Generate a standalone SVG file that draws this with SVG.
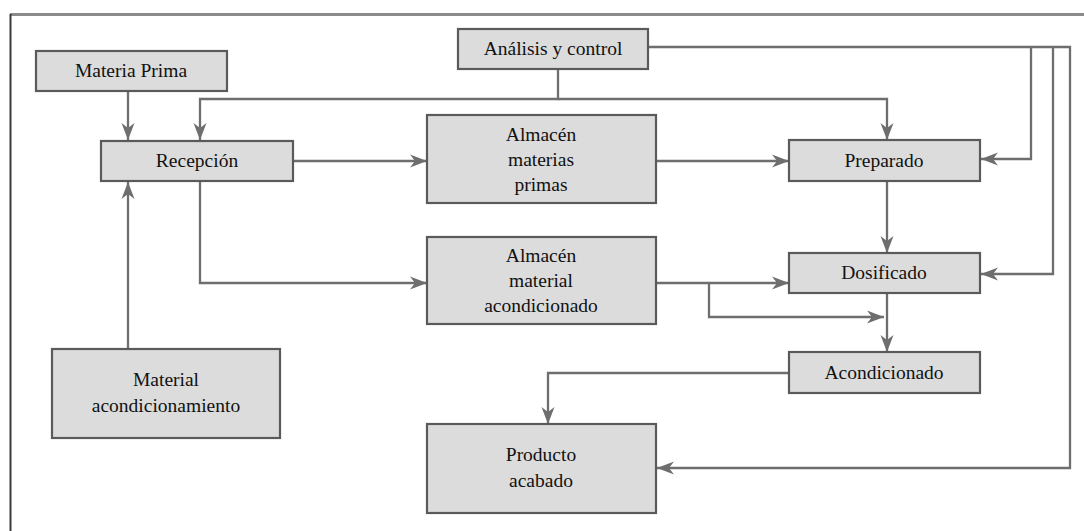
<svg xmlns="http://www.w3.org/2000/svg" width="1084" height="531" viewBox="0 0 1084 531">
<style>
.box{fill:#dcdcdc;stroke:#5a5a5a;stroke-width:2.2}
.lbl{font-family:"Liberation Serif","Times New Roman",serif;font-size:19.5px;fill:#111111;text-anchor:middle}
.c{fill:none;stroke:#6e6e6e;stroke-width:2.3}
.a{marker-end:url(#arr)}
</style>
<defs>
<marker id="arr" markerUnits="userSpaceOnUse" markerWidth="18" markerHeight="14" viewBox="0 0 18 14" refX="17" refY="7" orient="auto">
<path d="M0,0.5 L17,7 L0,13.5 L5,7 Z" fill="#6e6e6e"/>
</marker>
</defs>
<rect width="1084" height="531" fill="#ffffff"/>
<g id="frame">
<line x1="10" y1="14.5" x2="1084" y2="14.5" stroke="#8a8a8a" stroke-width="3"/>
<line x1="10.5" y1="14" x2="10.5" y2="531" stroke="#3a3a3a" stroke-width="2"/>
</g>
<g id="connectors">
<path class="c a" d="M128,91 V140"/>
<path class="c a" d="M558,69 V99 H200 V140"/>
<path class="c a" d="M558,99 H887 V140"/>
<path class="c a" d="M293,161 H427"/>
<path class="c a" d="M656,161 H789"/>
<path class="c a" d="M648,47 H1070 V468 H657"/>
<path class="c a" d="M1031,47 V159 H981"/>
<path class="c a" d="M1053,47 V274 H981"/>
<path class="c a" d="M887,181 V253"/>
<path class="c a" d="M200,181 V283 H427"/>
<path class="c a" d="M128,349 V182"/>
<path class="c a" d="M656,283 H789"/>
<path class="c a" d="M709,283 V317 H884"/>
<path class="c a" d="M887,293 V352"/>
<path class="c a" d="M789,373 H548 V424"/>
</g>
<g id="materia-prima">
<rect class="box" x="36" y="51" width="191" height="40"/>
<text class="lbl" x="131" y="77">Materia Prima</text>
</g>
<g id="analisis-control">
<rect class="box" x="458" y="29" width="190" height="40"/>
<text class="lbl" x="553" y="55">Análisis y control</text>
</g>
<g id="recepcion">
<rect class="box" x="101" y="141" width="192" height="40"/>
<text class="lbl" x="197" y="167">Recepción</text>
</g>
<g id="almacen-materias-primas">
<rect class="box" x="427" y="115" width="229" height="88"/>
<text class="lbl" x="541" y="141">Almacén</text>
<text class="lbl" x="541" y="166">materias</text>
<text class="lbl" x="541" y="191">primas</text>
</g>
<g id="preparado">
<rect class="box" x="789" y="140" width="191" height="41"/>
<text class="lbl" x="884" y="167">Preparado</text>
</g>
<g id="almacen-material-acondicionado">
<rect class="box" x="427" y="237" width="229" height="87"/>
<text class="lbl" x="541" y="262">Almacén</text>
<text class="lbl" x="541" y="287">material</text>
<text class="lbl" x="541" y="312">acondicionado</text>
</g>
<g id="dosificado">
<rect class="box" x="789" y="253" width="191" height="40"/>
<text class="lbl" x="884" y="279">Dosificado</text>
</g>
<g id="acondicionado">
<rect class="box" x="789" y="352" width="191" height="41"/>
<text class="lbl" x="884" y="379">Acondicionado</text>
</g>
<g id="material-acondicionamiento">
<rect class="box" x="52" y="349" width="228" height="89"/>
<text class="lbl" x="166" y="386">Material</text>
<text class="lbl" x="166" y="412">acondicionamiento</text>
</g>
<g id="producto-acabado">
<rect class="box" x="427" y="424" width="229" height="89"/>
<text class="lbl" x="541" y="461">Producto</text>
<text class="lbl" x="541" y="487">acabado</text>
</g>
</svg>
